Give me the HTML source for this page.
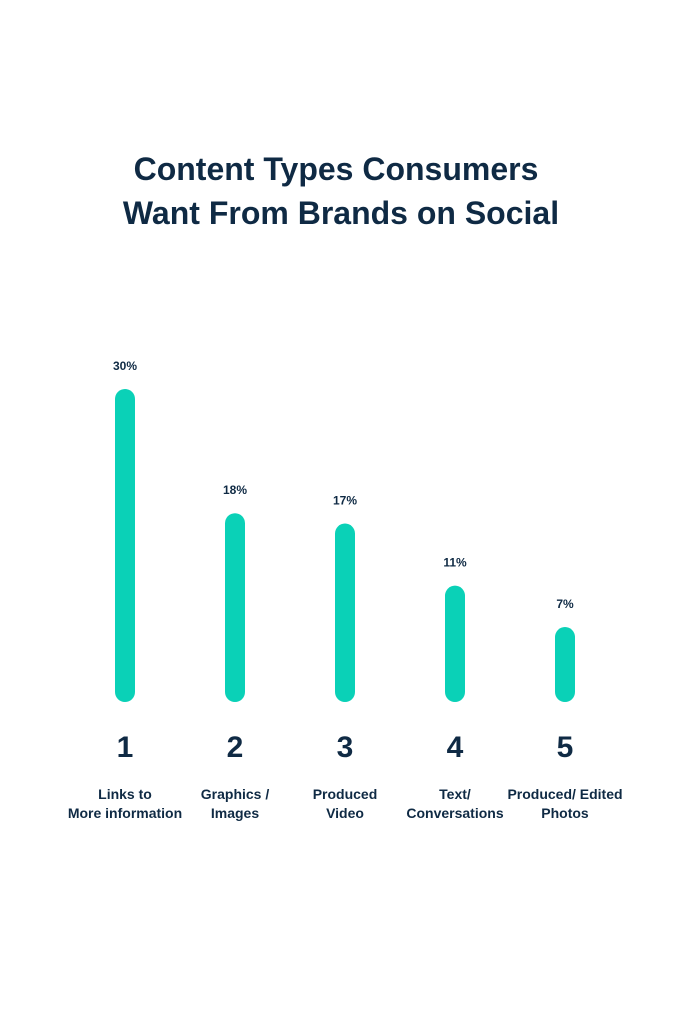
<!DOCTYPE html>
<html><head><meta charset="utf-8"><style>
body{margin:0;background:#fff;font-family:"Liberation Sans",sans-serif;}
svg{display:block}
</style></head><body>
<svg width="682" height="1024">
<text x="336" y="180" text-anchor="middle" font-size="32" font-weight="bold" fill="#0f2a44">Content Types Consumers</text>
<text x="341" y="224" text-anchor="middle" font-size="32" font-weight="bold" fill="#0f2a44">Want From Brands on Social</text>
<g id="bars"></g>
</svg>
<script>
const categories=[["Links to","More information"],["Graphics /","Images"],["Produced","Video"],["Text/","Conversations"],["Produced/ Edited","Photos"]];
const ranks=["1","2","3","4","5"];
const values=[30,18,17,11,7];
const valueLabels=["30%","18%","17%","11%","7%"];
const base=702, x0=125, step=110;
function xScale(i){return x0+i*step;}
function yScale(v){return base-(v*10.35+2.5);}
const g=document.getElementById('bars');
const ns="http://www.w3.org/2000/svg";
function t(x,y,s,size,name){const e=document.createElementNS(ns,'text');e.setAttribute('x',x);e.setAttribute('y',y);e.setAttribute('text-anchor','middle');e.setAttribute('font-size',size);e.setAttribute('font-weight','bold');e.setAttribute('fill','#0f2a44');e.textContent=s;


g.appendChild(e);}
values.forEach((v,i)=>{
const x=xScale(i),top=yScale(v);
const r=document.createElementNS(ns,'rect');
r.setAttribute('x',x-10);r.setAttribute('y',top);r.setAttribute('width',20);r.setAttribute('height',base-top);r.setAttribute('rx',10);r.setAttribute('fill','#0ad1b7');


g.appendChild(r);
t(x,top-19,valueLabels[i],12,'value-label');
t(x,757,ranks[i],30,'rank-number');
t(x,799,categories[i][0],14,'category-label');
t(x,818,categories[i][1],14,'category-label');
});
</script>
</body></html>
